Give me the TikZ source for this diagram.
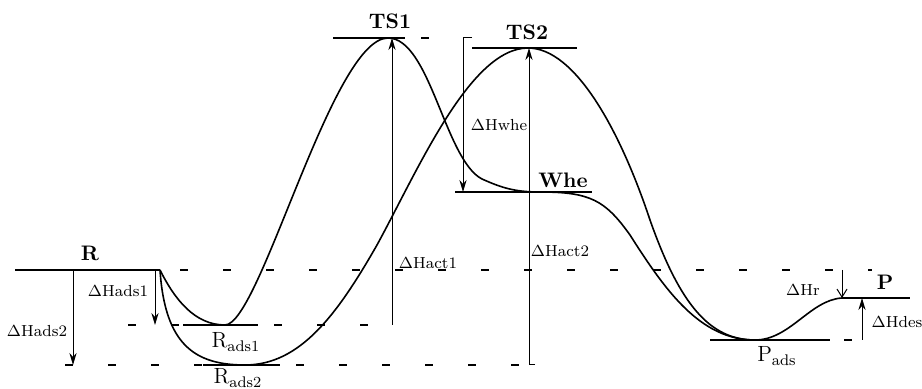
\documentclass[tikz,border=0pt]{standalone}
\usepackage{amsmath,amssymb}
\usepackage{tikz}
\usetikzlibrary{arrows.meta}
\usetikzlibrary{positioning}
\tikzset{
    level/.style={
        line width=1pt
    },
    guide/.style={
        line width=0.6pt,
        dash pattern=on 4pt off 17.5pt
    },
    curve/.style={
        line width=0.8pt
    },
    harrow/.style={
        line width=0.5pt,
        -{Stealth[length=6pt,width=3.6pt]}
    },
    openarrow/.style={
        line width=0.5pt,
        -{Straight Barb[length=4pt,width=5pt]}
    },
    statelabel/.style={
        font=\fontsize{10.5}{12}\selectfont\bfseries,
        inner sep=1pt
    },
    sublabel/.style={
        font=\fontsize{11}{13}\selectfont,
        inner sep=1pt
    },
    hlabel/.style={
        font=\footnotesize,
        inner sep=1pt
    }
}

\begin{document}
\begin{tikzpicture}[x=0.5pt,y=-0.5pt]
\useasboundingbox (0,0) rectangle (922,389);

% 能级端点
\coordinate (Ra) at (15,270);
\coordinate (Rb) at (160,270);
\coordinate (Rr) at (872,270);
\coordinate (A1l) at (128,325);
\coordinate (A1a) at (183,325);
\coordinate (A1b) at (258,325);
\coordinate (A1r) at (397,325);
\coordinate (A2l) at (65,365);
\coordinate (A2a) at (203,365);
\coordinate (A2b) at (280,365);
\coordinate (A2r) at (537,365);
\coordinate (T1a) at (333,38);
\coordinate (T1b) at (405,38);
\coordinate (T1r) at (438,38);
\coordinate (T2a) at (472,48);
\coordinate (T2b) at (577,48);
\coordinate (Wa) at (455,192);
\coordinate (Wb) at (592,192);
\coordinate (Pa) at (710,340);
\coordinate (Pb) at (830,340);
\coordinate (Pr) at (884,340);
\coordinate (Qa) at (842,298);
\coordinate (Qb) at (910,298);

% 能级
\draw[level] (Ra) -- (Rb);
\draw[level] (A1a) -- (A1b);
\draw[level] (A2a) -- (A2b);
\draw[level] (T1a) -- (T1b);
\draw[level] (T2a) -- (T2b);
\draw[level] (Wa) -- (Wb);
\draw[level] (Pa) -- (Pb);
\draw[level] (Qa) -- (Qb);

% 虚线
\draw[guide, dash phase=-10pt] (Rb) -- (Rr);
\draw[guide] (A1l) -- (A1a);
\draw[guide, dash phase=-8pt] (A1b) -- (A1r);
\draw[guide] (A2l) -- (A2a);
\draw[guide, dash phase=-8pt] (A2b) -- (A2r);
\draw[guide, dash phase=-8pt] (T1b) -- (T1r);
\draw[guide, dash phase=-7pt] (Pb) -- (Pr);

% 曲线
\draw[curve] (Rb) .. controls (175,300) and (195,325) .. (225,325)
    .. controls (260,325) and (332,38) .. (388,38)
    .. controls (430,38) and (445,160) .. (482,179)
    .. controls (502,188) and (515,192) .. (540,192)
    .. controls (590,192) and (605,200) .. (630,235)
    .. controls (665,290) and (700,340) .. (755,340)
    .. controls (790,340) and (810,300) .. (Qa);
\draw[curve] (Rb) .. controls (165,345) and (195,365) .. (245,365)
    .. controls (300,365) and (337,315) .. (377,245)
    .. controls (418,170) and (470,48) .. (528,48)
    .. controls (575,48) and (620,130) .. (650,220)
    .. controls (680,305) and (710,340) .. (755,340);

% 箭头端点
\coordinate (d2s) at (73,270);
\coordinate (d2e) at (73,365);
\coordinate (d1s) at (155,270);
\coordinate (d1e) at (155,325);
\coordinate (c1s) at (392,325);
\coordinate (c1e) at (392,38);
\coordinate (wt) at (472,38);
\coordinate (ws) at (463,38);
\coordinate (we) at (463,192);
\coordinate (c2t) at (535,365);
\coordinate (c2s) at (529,365);
\coordinate (c2e) at (529,48);
\coordinate (rs) at (842,270);
\coordinate (ds) at (862,340);
\coordinate (de) at (862,298);

% 箭头
\draw[harrow] (d2s) -- (d2e);
\draw[harrow] (d1s) -- (d1e);
\draw[harrow] (c1s) -- (c1e);
\draw[harrow] (wt) -- (ws) -- (we);
\draw[harrow] (c2t) -- (c2s) -- (c2e);
\draw[openarrow] (rs) -- (Qa);
\draw[harrow] (ds) -- (de);

% 标注
\node[statelabel] (labR) at (90,253) {R};
\node[statelabel] (labTS1) at (390,21) {TS1};
\node[statelabel] (labTS2) at (527,32) {TS2};
\node[statelabel] (labWhe) at (563,180) {Whe};
\node[statelabel] (labP) at (885,282) {P};
\node[sublabel] (labA1) at (236,342) {R\textsubscript{ads1}};
\node[sublabel] (labA2) at (238,378) {R\textsubscript{ads2}};
\node[sublabel] (labPads) at (777,356) {P\textsubscript{ads}};
\node[hlabel] (hads1) at (118,291) {$\Delta$Hads1};
\node[hlabel] (hads2) at (37,331) {$\Delta$Hads2};
\node[hlabel] (hact1) at (428,263) {$\Delta$Hact1};
\node[hlabel] (hwhe) at (499,125) {$\Delta$Hwhe};
\node[hlabel] (hact2) at (560,251) {$\Delta$Hact2};
\node[hlabel] (hr) at (803,290) {$\Delta$Hr};
\node[hlabel] (hdes) at (897,322) {$\Delta$Hdes};
\end{tikzpicture}
\end{document}
